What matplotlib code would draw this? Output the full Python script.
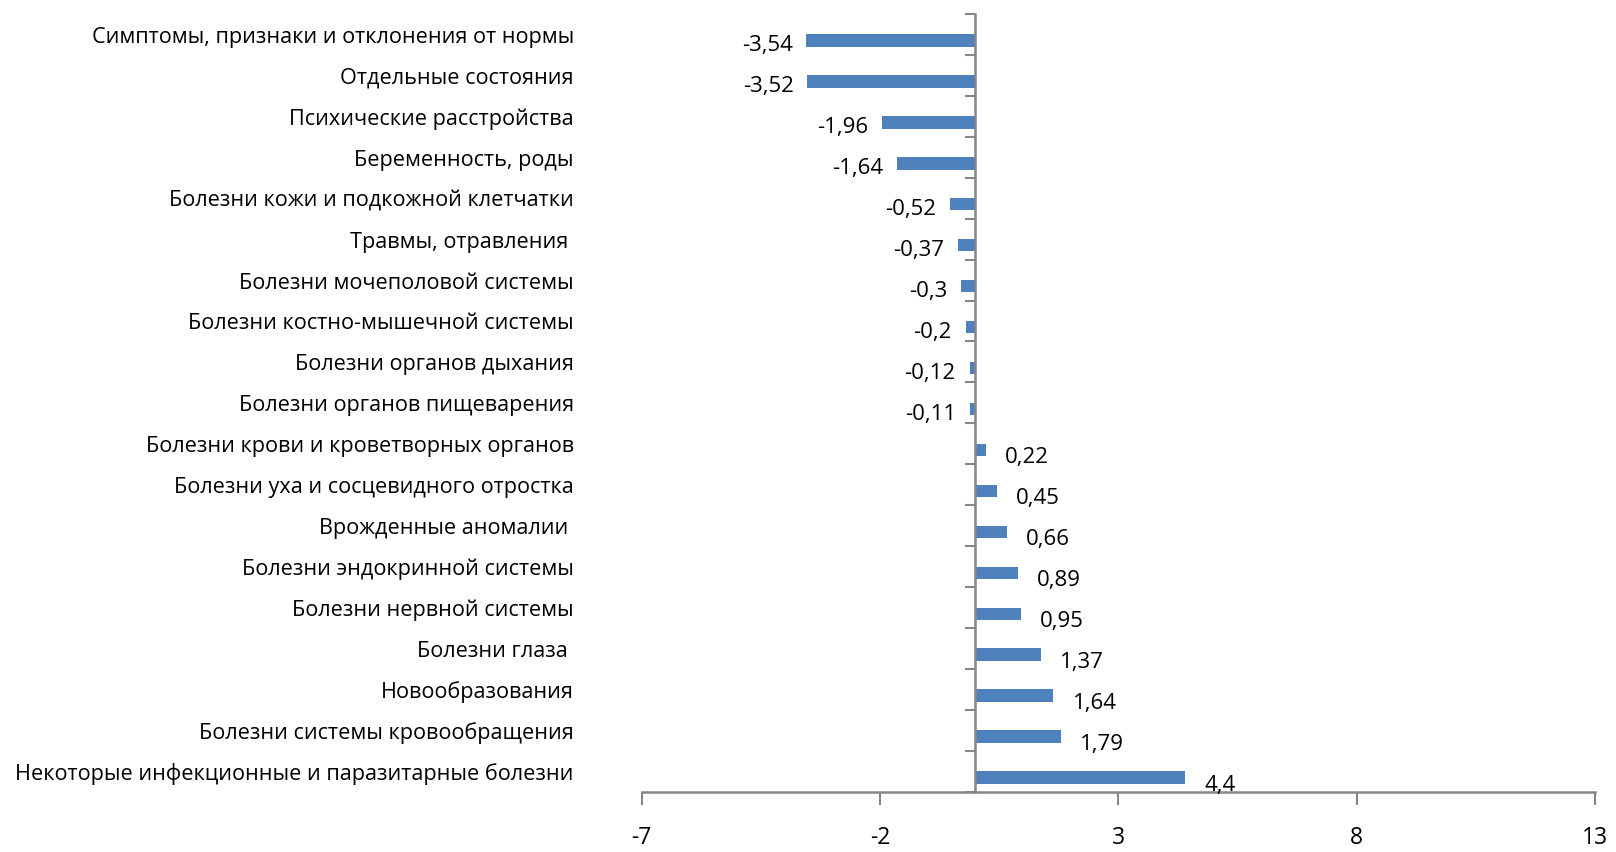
import numpy as np
import matplotlib
matplotlib.use('Agg')
import matplotlib.pyplot as plt
import matplotlib.transforms as mtransforms

# disease groups, top to bottom
categories = [
    'Симптомы, признаки и отклонения от нормы',
    'Отдельные состояния',
    'Психические расстройства',
    'Беременность, роды',
    'Болезни кожи и подкожной клетчатки',
    'Травмы, отравления ',
    'Болезни мочеполовой системы',
    'Болезни костно-мышечной системы',
    'Болезни органов дыхания',
    'Болезни органов пищеварения',
    'Болезни крови и кроветворных органов',
    'Болезни уха и сосцевидного отростка',
    'Врожденные аномалии ',
    'Болезни эндокринной системы',
    'Болезни нервной системы',
    'Болезни глаза ',
    'Новообразования',
    'Болезни системы кровообращения',
    'Некоторые инфекционные и паразитарные болезни',
]
values = [-3.54, -3.52, -1.96, -1.64, -0.52, -0.37, -0.3, -0.2, -0.12, -0.11,
          0.22, 0.45, 0.66, 0.89, 0.95, 1.37, 1.64, 1.79, 4.4]
x_ticks = [-7, -2, 3, 8, 13]

plt.rcParams['font.family'] = ['Open Sans', 'DejaVu Sans']

bar_color = '#4F81BD'
axis_color = '#868686'

fig = plt.figure(figsize=(16.16, 8.53), dpi=100)
ax = fig.add_axes([0.397, 0.0707, 0.59, 0.9117])

n = len(categories)
pos = np.arange(n)[::-1]
ax.barh(pos, values, height=0.3, color=bar_color)

# bars sit a little below the middle of their slot
shift = 0.15
ax.set_xlim(-7, 13)
ax.set_ylim(-0.5 + shift, n - 0.5 + shift)

# x axis
ax.set_xticks(x_ticks)
ax.set_xticklabels([str(t) for t in x_ticks], fontsize=16.5)
ax.tick_params(axis='x', direction='out', length=9, width=1.5,
               color=axis_color, pad=15)

# y axis sits at zero, ticks between categories
ax.spines['left'].set_position(('data', 0))
ax.set_yticks(np.arange(n + 1) - 0.5 + shift)
ax.set_yticklabels([])
ax.tick_params(axis='y', direction='out', length=7, width=1.5, color=axis_color)

for side in ['top', 'right']:
    ax.spines[side].set_visible(False)
for side in ['left', 'bottom']:
    ax.spines[side].set_color(axis_color)
    ax.spines[side].set_linewidth(1.8)

# category names on the far left
trans = mtransforms.blended_transform_factory(ax.transAxes, ax.transData)
trans = mtransforms.offset_copy(trans, fig=fig, y=3, units='points')
for p, name in zip(pos, categories):
    ax.text(-0.071, p, name, ha='right', va='center', fontsize=15.6,
            transform=trans)

# value labels
for p, v in zip(pos, values):
    txt = f'{v:g}'.replace('.', ',')
    if v < 0:
        ax.annotate(txt, (v, p), xytext=(-10, -3), textcoords='offset points',
                    ha='right', va='center', fontsize=16)
    else:
        ax.annotate(txt, (v, p), xytext=(14, -5), textcoords='offset points',
                    ha='left', va='center', fontsize=16)

fig.savefig('out.png', dpi=100)
